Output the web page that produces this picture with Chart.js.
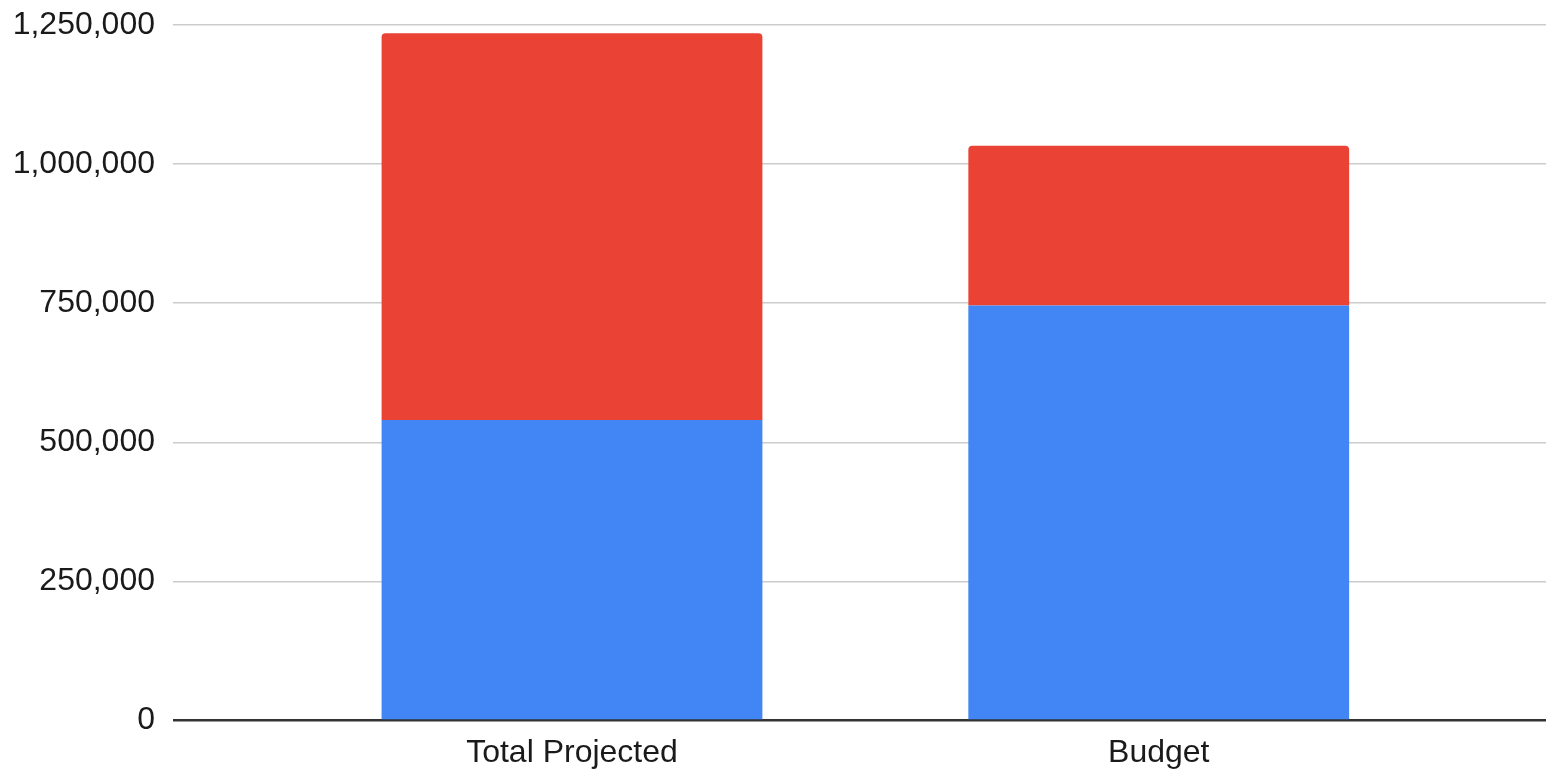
<!DOCTYPE html>
<html>
<head>
<meta charset="utf-8">
<script src="https://cdn.jsdelivr.net/npm/chart.js@4/dist/chart.umd.min.js"></script>
<style>
  html, body { margin: 0; padding: 0; background: #fff; }
  #wrap { width: 1546px; height: 769px; }
</style>
</head>
<body>
<div id="wrap"><canvas id="chart" width="1546" height="769"></canvas></div>
<script>
const categories = ["Total Projected", "Budget"];
const blueValues = [540000, 746000];
const redValues = [695000, 287000];
const yTicks = [0, 250000, 500000, 750000, 1000000, 1250000];

const toPoints = (values) => values.map((v, i) => ({ x: i, y: v }));

Chart.defaults.font.family = "'Liberation Sans', Arial, sans-serif";
Chart.defaults.font.size = 32;
Chart.defaults.color = "#1a1a1a";

new Chart(document.getElementById("chart"), {
  type: "bar",
  data: {
    datasets: [
      {
        label: "Blue",
        data: toPoints(blueValues),
        backgroundColor: "#4285F4",
        borderWidth: 0,
        categoryPercentage: 1,
        barPercentage: 0.649,
      },
      {
        label: "Red",
        data: toPoints(redValues),
        backgroundColor: "#EA4335",
        borderWidth: 0,
        borderRadius: { topLeft: 4, topRight: 4 },
        borderSkipped: "bottom",
        categoryPercentage: 1,
        barPercentage: 0.649,
      },
    ],
  },
  options: {
    responsive: false,
    animation: false,
    layout: { padding: { left: 13, top: 25, right: 0, bottom: -8 } },
    plugins: { legend: { display: false }, tooltip: { enabled: false } },
    scales: {
      x: {
        type: "linear",
        stacked: true,
        offset: false,
        min: -0.68,
        max: 1.66,
        afterBuildTicks: (scale) => {
          scale.ticks = categories.map((c, i) => ({ value: i }));
        },
        ticks: {
          padding: 5,
          autoSkip: false,
          maxRotation: 0,
          callback: (value) => categories[value],
        },
        grid: { display: false },
        border: { display: false },
      },
      y: {
        stacked: true,
        min: 0,
        max: 1250000,
        afterBuildTicks: (scale) => {
          scale.ticks = yTicks.map((v) => ({ value: v }));
        },
        afterFit: (scale) => {
          scale.width = 160;
          scale.paddingTop = 0;
          scale.paddingBottom = 0;
        },
        ticks: {
          padding: 18,
          callback: (value) => value.toLocaleString("en-US"),
        },
        grid: {
          drawTicks: false,
          color: (ctx) => (ctx.tick && ctx.tick.value === 0 ? "#333" : "#ccc"),
          lineWidth: (ctx) => (ctx.tick && ctx.tick.value === 0 ? 2.5 : 1.5),
        },
        border: { display: false },
      },
    },
  },
});
</script>
</body>
</html>
